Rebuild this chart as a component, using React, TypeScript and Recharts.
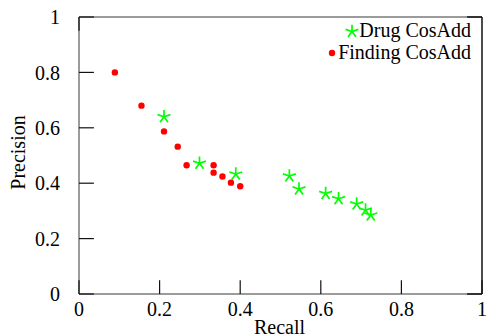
import React from 'react';
import {
  ScatterChart,
  Scatter,
  XAxis,
  YAxis,
  ReferenceLine,
  Legend,
  Label,
} from 'recharts';

const drugRecall = [0.211, 0.299, 0.389, 0.522, 0.546, 0.612, 0.644, 0.689, 0.711, 0.724];
const drugPrecision = [0.64, 0.472, 0.433, 0.426, 0.379, 0.363, 0.344, 0.325, 0.303, 0.285];

const findingRecall = [0.089, 0.155, 0.211, 0.245, 0.267, 0.334, 0.334, 0.356, 0.377, 0.4];
const findingPrecision = [0.8, 0.68, 0.587, 0.532, 0.465, 0.465, 0.438, 0.424, 0.402, 0.389];

const xTicks = [0, 0.2, 0.4, 0.6, 0.8, 1];
const yTicks = [0, 0.2, 0.4, 0.6, 0.8, 1];

const seriesNames = ['Drug CosAdd', 'Finding CosAdd'];
const axisTitles = { x: 'Recall', y: 'Precision' };

const drugData = drugRecall.map((x, i) => ({ x, y: drugPrecision[i] }));
const findingData = findingRecall.map((x, i) => ({ x, y: findingPrecision[i] }));

const GREEN = '#00ff00';
const RED = '#ff0000';
const FONT = '"Liberation Serif", "Times New Roman", serif';
const X_TICK_LEN = 0.05;
const Y_TICK_LEN = 0.037;

const starPath = (cx: number, cy: number, r: number) => {
  let d = '';
  for (let k = 0; k < 5; k++) {
    const a = ((-90 + k * 72) * Math.PI) / 180;
    d += `M${cx},${cy}L${cx + r * Math.cos(a)},${cy + r * Math.sin(a)}`;
  }
  return d;
};

const StarShape = (props: any) => {
  const { cx, cy } = props;
  if (cx == null || cy == null) return null;
  return <path d={starPath(cx, cy, 6.8)} stroke={GREEN} strokeWidth={1.7} fill="none" />;
};

const DotShape = (props: any) => {
  const { cx, cy } = props;
  if (cx == null || cy == null) return null;
  return <circle cx={cx} cy={cy} r={3.2} fill={RED} />;
};

const LegendContent = () => (
  <div
    style={{
      textAlign: 'right',
      fontFamily: FONT,
      fontSize: 20,
      lineHeight: '22px',
      color: '#000',
      whiteSpace: 'nowrap',
    }}
  >
    <div>
      <svg width={14} height={14} style={{ verticalAlign: '-1px' }}>
        <path d={starPath(7, 7.5, 6.8)} stroke={GREEN} strokeWidth={1.7} fill="none" />
      </svg>
      {seriesNames[0]}
    </div>
    <div>
      <svg width={9} height={8} style={{ marginRight: 1, verticalAlign: '2px' }}>
        <circle cx={4} cy={4} r={3.2} fill={RED} />
      </svg>
      {seriesNames[1]}
    </div>
  </div>
);

const YTitle = (props: any) => {
  const { viewBox } = props;
  const cx = viewBox.x + 18;
  const cy = viewBox.y + viewBox.height / 2 - 3;
  return (
    <text
      x={cx}
      y={cy}
      transform={`rotate(-90 ${cx} ${cy})`}
      textAnchor="middle"
      dominantBaseline="central"
      fontFamily={FONT}
      fontSize={20}
      fill="#000"
    >
      {axisTitles.y}
    </text>
  );
};

const XTitle = (props: any) => {
  const { viewBox } = props;
  const cx = viewBox.x + viewBox.width / 2 - 1;
  const cy = viewBox.y + 40;
  return (
    <text x={cx} y={cy} textAnchor="middle" fontFamily={FONT} fontSize={20} fill="#000">
      {axisTitles.x}
    </text>
  );
};

export default function App() {
  const tickStyle = { fontFamily: FONT, fontSize: 20, fill: '#000' };
  return (
    <div style={{ position: 'absolute', left: 0, top: 0, width: 486, height: 335, background: '#fff' }}>
      <ScatterChart width={486} height={335} margin={{ top: 17, right: 4, bottom: 0, left: 0 }}>
        <XAxis
          type="number"
          dataKey="x"
          domain={[0, 1]}
          ticks={xTicks}
          allowDataOverflow
          axisLine={false}
          tickLine={false}
          tickSize={6}
          tickMargin={2}
          height={41}
          tick={tickStyle}
          interval={0}
        >
          <Label content={<XTitle />} />
        </XAxis>
        <YAxis
          type="number"
          dataKey="y"
          domain={[0, 1]}
          ticks={yTicks}
          allowDataOverflow
          axisLine={false}
          tickLine={false}
          tickSize={6}
          tickMargin={13}
          width={79}
          tick={tickStyle}
          interval={0}
        >
          <Label content={<YTitle />} />
        </YAxis>

        {/* frame */}
        <ReferenceLine y={1} stroke="#7a7a7a" strokeWidth={1.5} />
        <ReferenceLine y={0} stroke="#7a7a7a" strokeWidth={1.5} />
        <ReferenceLine x={0} stroke="#7a7a7a" strokeWidth={1.5} />
        <ReferenceLine x={1} stroke="#111" strokeWidth={1.5} />

        {/* inward ticks */}
        {xTicks.map((t) => (
          <ReferenceLine
            key={'xt' + t}
            segment={[{ x: t, y: 0 }, { x: t, y: X_TICK_LEN }]}
            stroke="#111"
            strokeWidth={1.2}
          />
        ))}
        {yTicks.map((t) => (
          <ReferenceLine
            key={'yt' + t}
            segment={[{ x: 0, y: t }, { x: Y_TICK_LEN, y: t }]}
            stroke="#111"
            strokeWidth={1.2}
          />
        ))}
        <ReferenceLine segment={[{ x: 0, y: 1 }, { x: 0, y: 1 - X_TICK_LEN }]} stroke="#111" strokeWidth={1.2} />
        <ReferenceLine segment={[{ x: 1 - Y_TICK_LEN, y: 1 }, { x: 1, y: 1 }]} stroke="#111" strokeWidth={1.5} />
        <ReferenceLine segment={[{ x: 1 - Y_TICK_LEN, y: 0 }, { x: 1, y: 0 }]} stroke="#111" strokeWidth={1.5} />

        <Scatter name={seriesNames[0]} data={drugData} shape={<StarShape />} isAnimationActive={false} />
        <Scatter name={seriesNames[1]} data={findingData} shape={<DotShape />} isAnimationActive={false} />

        <Legend
          layout="horizontal"
          verticalAlign="middle"
          align="center"
          wrapperStyle={{ top: 19, left: 300, width: 171, height: 44 }}
          content={<LegendContent />}
        />
      </ScatterChart>
    </div>
  );
}
